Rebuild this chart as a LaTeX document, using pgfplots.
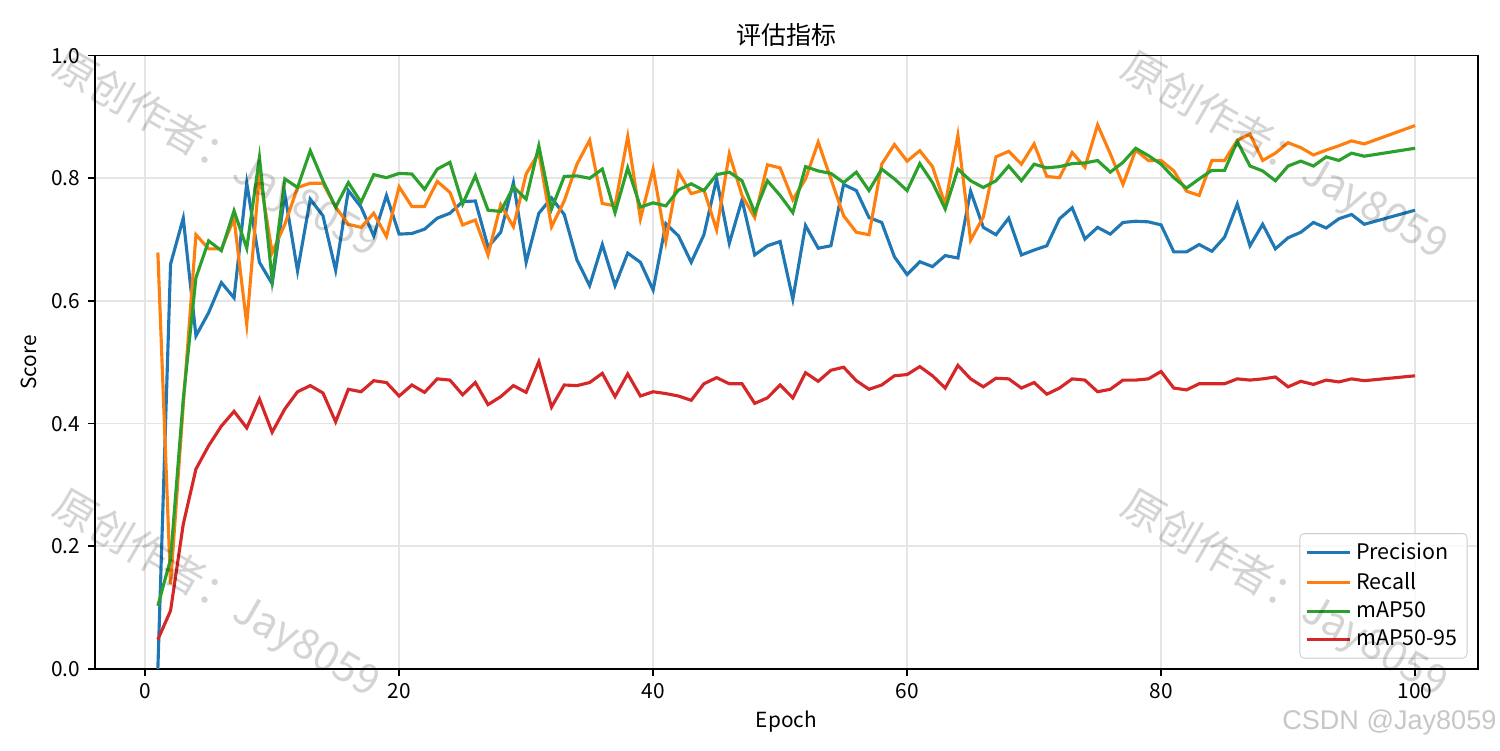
\documentclass[border=0pt]{standalone}
\usepackage{fontspec}
\setmainfont{Noto Sans CJK SC}
\newfontfamily\wmfont{Liberation Sans}
\usepackage{pgfplots}
\usepackage{pgfplotstable}
\pgfplotsset{compat=1.18}
\definecolor{c0}{HTML}{1F77B4}
\definecolor{c1}{HTML}{FF7F0E}
\definecolor{c2}{HTML}{2CA02C}
\definecolor{c3}{HTML}{D62728}
\pgfplotstableread{
epoch p r mA mB
1 0.000 0.679 0.103 0.048
2 0.660 0.138 0.179 0.095
3 0.735 0.430 0.440 0.236
4 0.543 0.708 0.638 0.326
5 0.581 0.685 0.698 0.364
6 0.630 0.685 0.682 0.396
7 0.605 0.734 0.747 0.420
8 0.792 0.562 0.686 0.393
9 0.663 0.807 0.834 0.440
10 0.628 0.679 0.634 0.386
11 0.774 0.725 0.799 0.424
12 0.649 0.785 0.785 0.452
13 0.766 0.792 0.845 0.462
14 0.739 0.792 0.796 0.450
15 0.650 0.753 0.753 0.403
16 0.780 0.725 0.793 0.456
17 0.753 0.720 0.761 0.452
18 0.706 0.743 0.806 0.470
19 0.772 0.705 0.801 0.467
20 0.709 0.786 0.808 0.445
21 0.710 0.754 0.807 0.463
22 0.717 0.754 0.782 0.451
23 0.735 0.795 0.815 0.473
24 0.743 0.777 0.826 0.471
25 0.762 0.724 0.758 0.447
26 0.763 0.732 0.804 0.467
27 0.688 0.675 0.748 0.431
28 0.712 0.757 0.746 0.444
29 0.793 0.721 0.786 0.462
30 0.663 0.807 0.766 0.451
31 0.743 0.842 0.853 0.501
32 0.768 0.721 0.750 0.427
33 0.741 0.763 0.803 0.463
34 0.667 0.823 0.804 0.462
35 0.625 0.862 0.800 0.467
36 0.692 0.759 0.815 0.482
37 0.625 0.755 0.744 0.444
38 0.678 0.868 0.817 0.481
39 0.663 0.734 0.753 0.445
40 0.618 0.815 0.760 0.452
41 0.726 0.697 0.755 0.449
42 0.706 0.810 0.781 0.445
43 0.663 0.775 0.791 0.438
44 0.708 0.781 0.780 0.465
45 0.799 0.716 0.806 0.475
46 0.694 0.840 0.810 0.465
47 0.765 0.772 0.796 0.465
48 0.675 0.736 0.744 0.433
49 0.690 0.822 0.796 0.442
50 0.697 0.817 0.772 0.463
51 0.603 0.765 0.744 0.442
52 0.723 0.799 0.819 0.483
53 0.686 0.859 0.812 0.469
54 0.690 0.799 0.808 0.487
55 0.790 0.739 0.793 0.492
56 0.780 0.712 0.810 0.470
57 0.736 0.708 0.780 0.456
58 0.728 0.823 0.815 0.463
59 0.672 0.855 0.799 0.478
60 0.643 0.828 0.780 0.480
61 0.664 0.845 0.824 0.493
62 0.656 0.819 0.793 0.478
63 0.674 0.757 0.750 0.458
64 0.670 0.870 0.815 0.495
65 0.779 0.699 0.796 0.473
66 0.720 0.737 0.785 0.460
67 0.708 0.835 0.796 0.474
68 0.735 0.844 0.820 0.473
69 0.675 0.823 0.796 0.458
70 0.683 0.856 0.823 0.467
71 0.690 0.803 0.817 0.448
72 0.734 0.801 0.819 0.458
73 0.752 0.842 0.824 0.473
74 0.701 0.818 0.825 0.471
75 0.720 0.887 0.829 0.452
76 0.709 0.840 0.810 0.456
77 0.728 0.790 0.826 0.471
78 0.730 0.846 0.849 0.471
79 0.729 0.829 0.837 0.473
80 0.724 0.829 0.823 0.485
81 0.680 0.812 0.801 0.458
82 0.680 0.779 0.784 0.455
83 0.692 0.772 0.799 0.465
84 0.681 0.829 0.813 0.465
85 0.704 0.829 0.813 0.465
86 0.758 0.862 0.860 0.473
87 0.690 0.872 0.820 0.471
88 0.725 0.829 0.812 0.473
89 0.685 0.841 0.796 0.476
90 0.703 0.858 0.820 0.460
91 0.712 0.850 0.828 0.469
92 0.728 0.838 0.820 0.464
93 0.719 0.846 0.835 0.471
94 0.734 0.853 0.829 0.468
95 0.741 0.861 0.841 0.473
96 0.725 0.856 0.836 0.470
100 0.748 0.886 0.849 0.478
}\metrics
\begin{document}
\begin{tikzpicture}
\path[use as bounding box] (0,0) rectangle (720pt,360pt);
\begin{axis}[
  at={(45.6pt,38.9pt)}, anchor=south west,
  scale only axis, width=663.8pt, height=294.4pt,
  xmin=-3.95, xmax=104.95, ymin=0, ymax=1,
  xtick={0,20,40,60,80,100}, ytick={0,0.2,0.4,0.6,0.8,1},
  /pgf/number format/assume math mode=true,
  yticklabel style={/pgf/number format/.cd, fixed, fixed zerofill, precision=1},
  tick align=outside, tick pos=left, major tick length=3.5pt,
  every tick/.style={black, line width=0.8pt},
  axis line style={line width=0.8pt, black},
  grid=major, major grid style={line width=0.8pt, color=black!10},
  ticklabel style={font=\fontsize{10}{12}\selectfont},
  title={评估指标},
  title style={font=\fontsize{12}{14}\selectfont, at={(0.5,1)}, anchor=south, yshift=-5pt},
  xlabel={Epoch}, ylabel={Score},
  xlabel style={yshift=1pt},
  label style={font=\fontsize{10}{12}\selectfont},
  legend style={at={(1,0)}, anchor=south east, xshift=-5pt, yshift=5pt,
    draw=black!20, rounded corners=2pt, fill=white, fill opacity=0.8, text opacity=1,
    font=\fontsize{10.3}{12}\selectfont, row sep=0.5pt, inner sep=2.5pt},
  legend cell align=left,
  legend image code/.code={\draw[#1, line width=1.5pt] (0pt,0pt) -- (21pt,0pt);},
]
\addplot[c0, line width=1.5pt] table[x=epoch, y=p] {\metrics};
\addlegendentry{Precision}
\addplot[c1, line width=1.5pt] table[x=epoch, y=r] {\metrics};
\addlegendentry{Recall}
\addplot[c2, line width=1.5pt] table[x=epoch, y=mA] {\metrics};
\addlegendentry{mAP50}
\addplot[c3, line width=1.5pt] table[x=epoch, y=mB] {\metrics};
\addlegendentry{mAP50-95}
\end{axis}
\begin{scope}[every node/.style={rotate=-30, text=black, text opacity=0.17, font=\fontsize{20}{24}\selectfont, inner sep=0pt}]
\node at (103.7pt,285.6pt) {原创作者：Jay8059};
\node at (103.7pt,74.4pt) {原创作者：Jay8059};
\node at (616.5pt,284.6pt) {原创作者：Jay8059};
\node at (616.5pt,74.4pt) {原创作者：Jay8059};
\end{scope}
\node[anchor=east, inner sep=0pt, text=black!22, font=\wmfont\fontsize{13}{15}\selectfont] at (718.5pt,13.4pt) {CSDN @Jay8059};
\end{tikzpicture}
\end{document}
